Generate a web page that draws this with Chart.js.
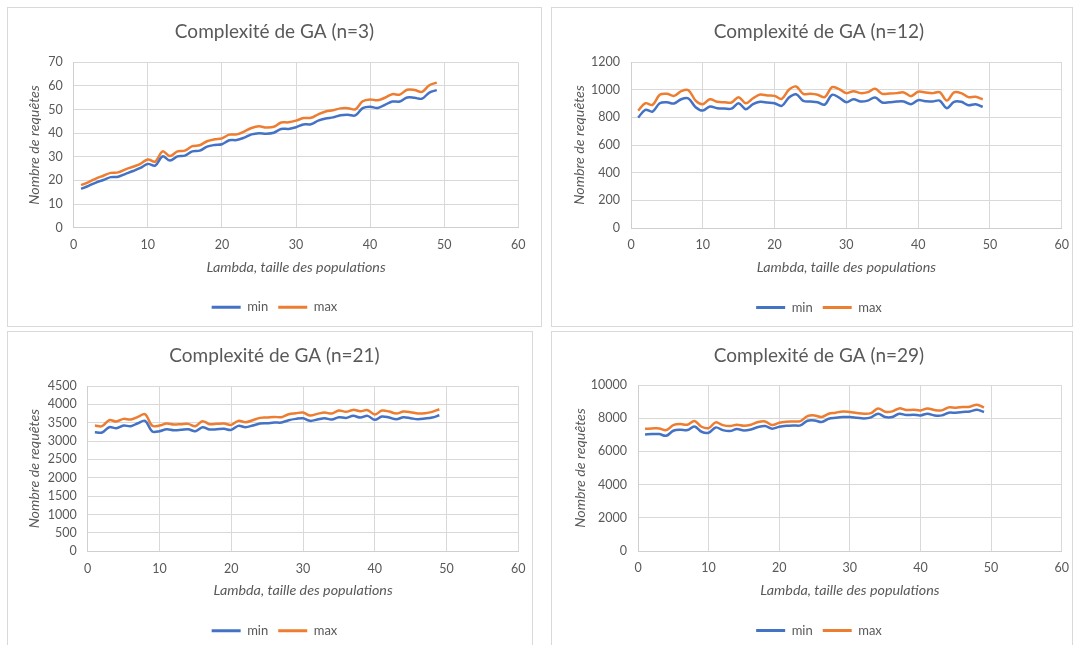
<!DOCTYPE html>
<html lang="fr">
<head>
<meta charset="UTF-8">
<title>Complexité de GA</title>
<script src="https://cdn.jsdelivr.net/npm/chart.js"></script>
<style>
  html, body { margin: 0; padding: 0; background: #fff; overflow: hidden; }
  body { width: 1073px; height: 645px; position: relative; }
  .panel { position: absolute; border: 1px solid #d9d9d9; background: #fff; overflow: hidden; height: 318px; }
  .panel canvas { display: block; }
</style>
</head>
<body>
<div class="panel" style="left:7px; top:7px; width:533px;"><canvas id="c1" width="533" height="318"></canvas></div>
<div class="panel" style="left:551px; top:7px; width:520px;"><canvas id="c2" width="534" height="318"></canvas></div>
<div class="panel" style="left:7px; top:331px; width:524px;"><canvas id="c3" width="533" height="318"></canvas></div>
<div class="panel" style="left:551px; top:331px; width:520px;"><canvas id="c4" width="534" height="318"></canvas></div>

<script>
// lambda (taille des populations)
const lambda = [1,2,3,4,5,6,7,8,9,10,11,12,13,14,15,16,17,18,19,20,21,22,23,24,25,
  26,27,28,29,30,31,32,33,34,35,36,37,38,39,40,41,42,43,44,45,46,47,48,49];

// n=3
const min3 = [16.4,17.7,19.1,20.2,21.4,21.6,22.8,24.0,25.3,27.0,26.3,30.2,28.4,30.2,30.5,32.3,32.6,
  34.3,35.0,35.3,37.0,37.1,38.1,39.5,40.0,39.8,40.2,41.8,41.8,42.5,43.7,43.8,45.3,46.2,46.7,47.6,
  47.8,47.5,50.6,51.2,50.7,52.0,53.4,53.4,55.1,55.0,54.6,57.2,58.2];
const max3 = [18.0,19.3,20.8,22.0,23.2,23.4,24.7,25.8,27.0,28.9,28.0,32.3,30.3,32.3,32.6,34.5,34.9,
  36.6,37.4,37.8,39.4,39.5,40.7,42.2,42.9,42.4,42.7,44.5,44.6,45.3,46.4,46.5,48.0,49.2,49.7,50.5,
  50.6,50.1,53.5,54.3,53.9,55.0,56.5,56.3,58.4,58.3,57.5,60.3,61.4];

// n=12
const min12 = [798,854,842,902,909,900,931,936,873,849,878,866,863,863,902,859,895,912,907,902,
  883,943,967,919,914,909,892,963,943,909,931,914,921,943,907,909,914,914,895,924,917,914,921,
  866,912,912,888,895,876];
const max12 = [849,902,890,963,970,955,989,996,921,895,931,912,909,907,946,902,938,965,958,955,
  934,999,1023,970,970,963,946,1018,1004,975,989,975,982,1006,970,972,975,980,953,985,980,975,
  982,921,980,975,946,948,931];

// n=21
const min21 = [3243,3234,3379,3351,3424,3406,3487,3551,3261,3270,3324,3297,3306,3324,3270,3379,
  3315,3324,3333,3306,3415,3379,3424,3478,3487,3505,3505,3569,3605,3623,3551,3587,3623,3587,3650,
  3632,3687,3641,3687,3578,3669,3641,3596,3650,3623,3596,3614,3641,3705];
const max21 = [3424,3406,3569,3533,3605,3587,3659,3732,3415,3424,3478,3451,3460,3469,3406,3542,
  3460,3469,3478,3442,3551,3514,3569,3632,3641,3659,3650,3732,3759,3777,3696,3741,3777,3750,3832,
  3796,3850,3814,3841,3723,3832,3805,3750,3805,3787,3750,3759,3796,3868];

// n=29
const min29 = [7022,7042,7042,6942,7243,7304,7284,7505,7183,7123,7445,7284,7223,7344,7264,7324,
  7465,7525,7364,7485,7545,7565,7565,7847,7867,7767,7968,8028,8068,8068,8028,7988,8048,8270,8068,
  8068,8270,8189,8209,8169,8270,8169,8169,8330,8330,8370,8410,8511,8370];
const max29 = [7364,7384,7384,7284,7585,7646,7606,7827,7485,7404,7747,7585,7525,7606,7545,7606,
  7767,7807,7585,7726,7787,7807,7827,8129,8169,8068,8270,8330,8410,8370,8310,8270,8310,8591,8390,
  8410,8591,8491,8511,8471,8591,8491,8471,8652,8632,8672,8692,8813,8652];

const BLUE = '#4472C4';
const ORANGE = '#ED7D31';
const TEXT = '#595959';
const GRID = '#d9d9d9';
const FONT = 'Lato, "Open Sans", sans-serif';

const TITLE_SIZE = 19, TICK_SIZE = 12.5, AXIS_SIZE = 14.3, LEGEND_SIZE = 13;
const X_AXIS_H = 63;

function makeChart(id, title, minData, maxData, yMax, yStep, plot) {
  const canvas = document.getElementById(id);
  const W = canvas.width, H = canvas.height;
  const side = W - plot.right;
  const titleLH = TITLE_SIZE * 1.2, axisLH = AXIS_SIZE * 1.2, tickLH = TICK_SIZE * 1.2;
  const legendH = LEGEND_SIZE + 20;

  const series = (label, values, color) => ({
    label: label,
    data: lambda.map((x, i) => ({ x: x, y: values[i] })),
    borderColor: color,
    backgroundColor: color,
    borderWidth: 2.5,
    pointRadius: 0,
    tension: 0.35
  });

  new Chart(canvas, {
    type: 'line',
    data: { datasets: [series('min', minData, BLUE), series('max', maxData, ORANGE)] },
    options: {
      responsive: false,
      animation: false,
      layout: { padding: { left: side, right: side, top: 0, bottom: H - plot.bottom - X_AXIS_H - legendH } },
      plugins: {
        title: {
          display: true,
          text: title,
          color: TEXT,
          font: { family: FONT, size: TITLE_SIZE, weight: 'normal', lineHeight: 1.2 },
          padding: { top: 24 - titleLH / 2, bottom: plot.top - 24 - titleLH / 2 }
        },
        legend: {
          position: 'bottom',
          labels: {
            boxWidth: 29,
            boxHeight: 3,
            padding: 10,
            color: TEXT,
            font: { family: FONT, size: LEGEND_SIZE },
            generateLabels: chart => Chart.defaults.plugins.legend.labels.generateLabels(chart)
              .map(l => Object.assign(l, { lineWidth: 0 }))
          }
        },
        tooltip: { enabled: false }
      },
      scales: {
        x: {
          type: 'linear',
          min: 0,
          max: 60,
          ticks: { stepSize: 10, padding: 17.4 - tickLH / 2, color: TEXT, font: { family: FONT, size: TICK_SIZE } },
          grid: { color: GRID, drawTicks: false },
          border: { color: '#cfcfcf' },
          title: {
            display: true,
            text: 'Lambda, taille des populations',
            color: TEXT,
            font: { family: FONT, size: AXIS_SIZE, style: 'italic', lineHeight: 1.2 },
            padding: { top: 0, bottom: X_AXIS_H - 39.2 - axisLH / 2 }
          },
          afterFit: s => { s.height = X_AXIS_H; }
        },
        y: {
          min: 0,
          max: yMax,
          ticks: {
            stepSize: yStep, padding: 11, color: TEXT,
            font: { family: FONT, size: TICK_SIZE },
            callback: v => String(v)
          },
          grid: { color: GRID, drawTicks: false },
          border: { color: '#cfcfcf' },
          title: {
            display: true,
            text: 'Nombre de requêtes',
            color: TEXT,
            font: { family: FONT, size: AXIS_SIZE, style: 'italic', lineHeight: 1.2 },
            padding: { top: plot.titleX - side - axisLH / 2, bottom: 0 }
          },
          afterFit: s => { s.width = plot.left - side; }
        }
      }
    }
  });
}

makeChart('c1', 'Complexité de GA (n=3)', min3, max3, 70, 10,
  { left: 65.7, right: 510.3, top: 54.3, bottom: 219.7, titleX: 26.8 });
makeChart('c2', 'Complexité de GA (n=12)', min12, max12, 1200, 200,
  { left: 79, right: 509.7, top: 54, bottom: 220, titleX: 27 });
makeChart('c3', 'Complexité de GA (n=21)', min21, max21, 4500, 500,
  { left: 79.7, right: 510.3, top: 54, bottom: 219.3, titleX: 26.8 });
makeChart('c4', 'Complexité de GA (n=29)', min29, max29, 10000, 2000,
  { left: 86, right: 509.7, top: 53, bottom: 219, titleX: 28 });
</script>
</body>
</html>
